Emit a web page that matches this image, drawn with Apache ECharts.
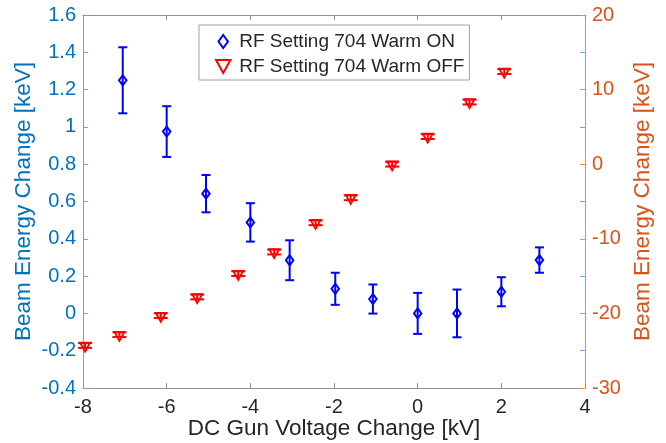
<!DOCTYPE html>
<html>
<head>
<meta charset="utf-8">
<script src="https://cdn.jsdelivr.net/npm/echarts@6/dist/echarts.min.js"></script>
<style>
html,body{margin:0;padding:0;background:#fff;}
#chart{width:666px;height:443px;}
</style>
</head>
<body>
<div id="chart"></div>
<script>
// ---- data ----
const xTicks = [-8, -6, -4, -2, 0, 2, 4];
const leftTicks = [-0.4, -0.2, 0, 0.2, 0.4, 0.6, 0.8, 1, 1.2, 1.4, 1.6];
const rightTicks = [-30, -20, -10, 0, 10, 20];

const onName = 'RF Setting 704 Warm ON';
const offName = 'RF Setting 704 Warm OFF';

const onX   = [-7.05, -6.0, -5.06, -4.0, -3.06, -1.97, -1.07, 0.0, 0.94, 2.0, 2.91];
const onY   = [1.25, 0.975, 0.642, 0.488, 0.285, 0.132, 0.077, 0.0, 0.0, 0.116, 0.286];
const onErr = [0.177, 0.136, 0.1, 0.103, 0.107, 0.086, 0.078, 0.11, 0.128, 0.078, 0.068];

const offX   = [-7.95, -7.13, -6.14, -5.27, -4.29, -3.43, -2.44, -1.6, -0.61, 0.24, 1.24, 2.07];
const offY   = [-24.3, -22.85, -20.3, -17.8, -14.67, -11.78, -7.85, -4.5, 0.0, 3.7, 8.33, 12.42];
const offErr = [0.32, 0.32, 0.32, 0.32, 0.32, 0.32, 0.32, 0.32, 0.32, 0.32, 0.32, 0.32];

// ---- build ----
const FONT = "'Liberation Sans', Arial, sans-serif";
const BLUE_TXT = '#0072BD';
const ORANGE_TXT = '#D95319';

const onData = onX.map((x, i) => [x, onY[i], onErr[i]]);
const offData = offX.map((x, i) => [x, offY[i], offErr[i]]);

function errRender(capW, color, lw) {
  return function (params, api) {
    const x = api.value(0), y = api.value(1), e = api.value(2);
    const t = api.coord([x, y + e]);
    const b = api.coord([x, y - e]);
    const style = { stroke: color, lineWidth: lw };
    return {
      type: 'group',
      children: [
        { type: 'line', shape: { x1: t[0], y1: t[1], x2: b[0], y2: b[1] }, style },
        { type: 'line', shape: { x1: t[0] - capW / 2, y1: t[1], x2: t[0] + capW / 2, y2: t[1] }, style },
        { type: 'line', shape: { x1: b[0] - capW / 2, y1: b[1], x2: b[0] + capW / 2, y2: b[1] }, style }
      ]
    };
  };
}

const chart = echarts.init(document.getElementById('chart'), null, { renderer: 'canvas' });

const xMin = xTicks[0], xMax = xTicks[xTicks.length - 1];
const lMin = leftTicks[0], lMax = leftTicks[leftTicks.length - 1];
const rMin = rightTicks[0], rMax = rightTicks[rightTicks.length - 1];

chart.setOption({
  backgroundColor: '#fff',
  animation: false,
  grid: { left: 83, right: 81, top: 15, bottom: 55, containLabel: false, outerBoundsMode: 'none' },
  legend: {
    orient: 'vertical',
    left: 199, top: 25,
    padding: [7, 5, 4, 16],
    itemGap: 6,
    itemWidth: 22, itemHeight: 13,
    backgroundColor: '#fff',
    borderColor: '#a0a0a0', borderWidth: 1,
    textStyle: { fontFamily: FONT, fontSize: 19, color: '#262626' },
    data: [onName, offName]
  },
  xAxis: [
    {
      type: 'value', position: 'bottom', min: xMin, max: xMax, interval: 2,
      name: 'DC Gun Voltage Change [kV]', nameLocation: 'middle', nameGap: 29, nameMoveOverlap: false,
      nameTextStyle: { fontFamily: FONT, fontSize: 22.5, color: '#262626' },
      axisLine: { show: true, onZero: false, lineStyle: { color: '#909090', width: 1 } },
      axisTick: { show: true, inside: true, length: 5, lineStyle: { color: '#909090' } },
      axisLabel: { fontFamily: FONT, fontSize: 20, color: '#262626', margin: 9 },
      splitLine: { show: false }
    },
    {
      type: 'value', position: 'top', min: xMin, max: xMax, interval: 2,
      axisLine: { show: true, onZero: false, lineStyle: { color: '#909090', width: 1 } },
      axisTick: { show: true, inside: true, length: 5, lineStyle: { color: '#909090' } },
      axisLabel: { show: false },
      splitLine: { show: false }
    }
  ],
  yAxis: [
    {
      type: 'value', position: 'left', min: lMin, max: lMax, interval: 0.2,
      name: 'Beam Energy Change [keV]', nameLocation: 'middle', nameGap: 48, nameRotate: 90, nameMoveOverlap: false,
      nameTextStyle: { fontFamily: FONT, fontSize: 22.5, color: BLUE_TXT },
      axisLine: { show: true, onZero: false, lineStyle: { color: '#6aa6d8', width: 1 } },
      axisTick: { show: true, inside: true, length: 5, lineStyle: { color: '#6aa6d8' } },
      axisLabel: { fontFamily: FONT, fontSize: 20, color: BLUE_TXT, margin: 7,
        formatter: v => String(Math.round(v * 10) / 10) },
      splitLine: { show: false }
    },
    {
      type: 'value', position: 'right', min: rMin, max: rMax, interval: 10,
      name: 'Beam Energy Change [keV]', nameLocation: 'middle', nameGap: 46, nameRotate: 90, nameMoveOverlap: false,
      nameTextStyle: { fontFamily: FONT, fontSize: 22.5, color: ORANGE_TXT },
      axisLine: { show: true, onZero: false, lineStyle: { color: '#e58a62', width: 1 } },
      axisTick: { show: true, inside: true, length: 5, lineStyle: { color: '#e58a62' } },
      minorTick: { show: true, splitNumber: 2, length: 5, lineStyle: { color: '#6aa6d8', width: 1 } },
      axisLabel: { fontFamily: FONT, fontSize: 20, color: ORANGE_TXT, margin: 7 },
      splitLine: { show: false }
    }
  ],
  series: [
    {
      type: 'custom', name: onName + ' err', xAxisIndex: 0, yAxisIndex: 0,
      renderItem: errRender(9, '#0000ff', 2), data: onData,
      encode: { x: 0, y: 1 }, z: 2, silent: true
    },
    {
      type: 'custom', name: offName + ' err', xAxisIndex: 0, yAxisIndex: 1,
      renderItem: errRender(14, '#ff0000', 2), data: offData,
      encode: { x: 0, y: 1 }, z: 2, silent: true
    },
    {
      type: 'scatter', name: onName, xAxisIndex: 0, yAxisIndex: 0,
      data: onData.map(d => [d[0], d[1]]),
      symbol: 'path://M4,0L8,5.5L4,11L0,5.5Z', symbolSize: [7.5, 10],
      itemStyle: { color: 'rgba(255,255,255,0)', borderColor: '#0000ff', borderWidth: 2, opacity: 1 },
      z: 3
    },
    {
      type: 'scatter', name: offName, xAxisIndex: 0, yAxisIndex: 1,
      data: offData.map(d => [d[0], d[1]]),
      symbol: 'path://M0,0L10,0L5,9Z', symbolSize: [10, 9], symbolOffset: [0, 1.6],
      itemStyle: { color: 'rgba(255,255,255,0)', borderColor: '#ff0000', borderWidth: 1.8, opacity: 1 },
      z: 3
    }
  ]
});
</script>
</body>
</html>
